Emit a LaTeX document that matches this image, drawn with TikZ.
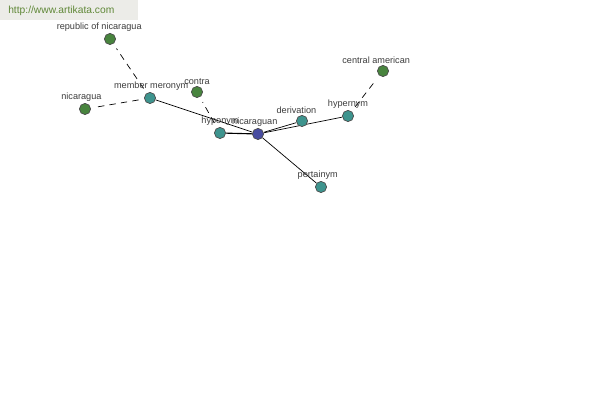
\documentclass[tikz,border=0pt]{standalone}
\usepackage{fontspec}
\setmainfont{Liberation Sans}
\definecolor{teal}{RGB}{62,148,142}
\definecolor{leaf}{RGB}{72,132,62}
\definecolor{indigo}{RGB}{72,76,160}
\definecolor{labelgray}{RGB}{60,60,60}
\definecolor{olive}{RGB}{96,136,56}
\definecolor{bargray}{RGB}{236,236,232}
\usetikzlibrary{positioning,backgrounds}

\begin{document}
\begin{tikzpicture}[
    word/.style={circle,draw=black!70,line width=0.5pt,inner sep=0pt,
      minimum size=0.28cm},
    lbl/.style={font=\fontsize{6.5}{7}\selectfont,text=labelgray,
      inner sep=0pt,label distance=0.03cm},
    rel/.style={black,line width=0.5pt},
    syn/.style={black,line width=0.5pt,dash pattern=on 0.16cm off 0.13cm,
      shorten <=0.14cm,shorten >=0.14cm}]
    \useasboundingbox (0,0) rectangle (15,10);

    % site banner
    \fill[bargray] (0,10) rectangle (3.45,9.5);
    \node[anchor=west,font=\fontsize{7.3}{8}\selectfont,text=olive,inner sep=0pt]
      (site) at (0.2,9.725) {http://www.artikata.com};

    % centre word
    \node[word,fill=indigo,label={[lbl,xshift=-0.08cm]above:nicaraguan}] (nicaraguan) at (6.45,6.65) {};

    % relation nodes
    \node[word,fill=teal,label={[lbl]above:hyponym}] (hyponym) at (5.5,6.675) {};
    \node[word,fill=teal,label={[lbl,xshift=0.03cm]above:member meronym}] (meronym) at (3.75,7.55) {};
    \node[word,fill=teal,label={[lbl,xshift=-0.14cm]above:derivation}] (derivation) at (7.55,6.975) {};
    \node[word,fill=teal,label={[lbl]above:hypernym}] (hypernym) at (8.7,7.1) {};
    \node[word,fill=teal,label={[lbl,xshift=-0.08cm]above:pertainym}] (pertainym) at (8.025,5.325) {};

    % related words
    \node[word,fill=leaf,label={[lbl,xshift=-0.27cm]above:republic of nicaragua}] (republic) at (2.75,9.025) {};
    \node[word,fill=leaf,label={[lbl,xshift=-0.09cm]above:nicaragua}] (nicaragua) at (2.125,7.275) {};
    \node[word,fill=leaf,label={[lbl]above:contra}] (contra) at (4.925,7.7) {};
    \node[word,fill=leaf,label={[lbl,xshift=-0.17cm]above:central american}] (central) at (9.575,8.225) {};

    \begin{scope}[on background layer]
    \draw[rel,line width=0.8pt] (nicaraguan) -- (hyponym);
    \draw[rel] (nicaraguan) -- (meronym);
    \draw[rel] (nicaraguan) -- (derivation);
    \draw[rel] (nicaraguan) -- (hypernym);
    \draw[rel] (nicaraguan) -- (pertainym);

    \draw[syn] (meronym) -- (republic);
    \draw[syn] (meronym) -- (nicaragua);
    \draw[syn] (hyponym) -- (contra);
    \draw[syn] (hypernym) -- (central);
    \end{scope}
  \end{tikzpicture}
\end{document}
